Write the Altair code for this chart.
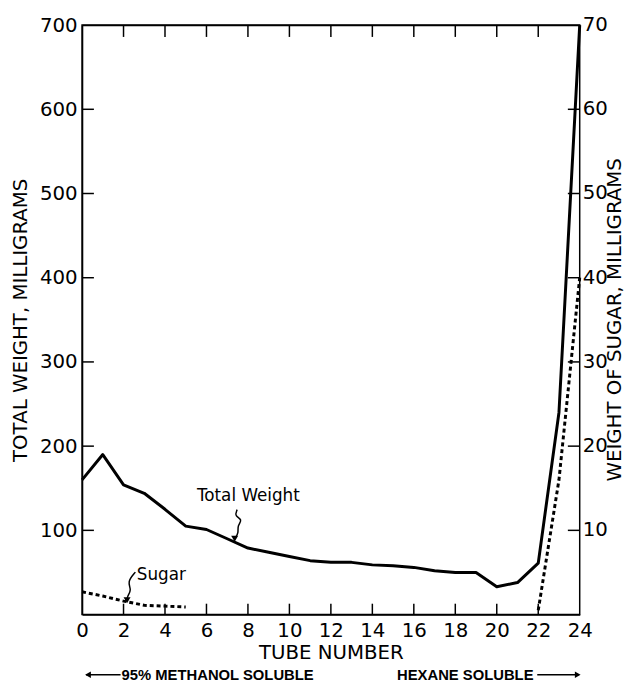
import altair as alt
import pandas as pd

# ---------------- data ----------------
TUBES = list(range(25))
TOTAL_WEIGHT = [160, 190, 154, 144, 125, 105, 101, 90, 79, 74, 69, 64, 62,
                62, 59, 58, 56, 52, 50, 50, 33, 38, 61, 240, 700]

SUGAR_TUBES_A = [0, 1, 2, 3, 4, 5]
SUGAR_A = [2.7, 2.2, 1.6, 1.1, 1.0, 0.9]
SUGAR_TUBES_B = [22, 23, 24]
SUGAR_B = [0.5, 16, 40]

X_TICKS = list(range(0, 25, 2))
X_INNER_TICKS = list(range(2, 23, 2))
LEFT_TICKS = [100, 200, 300, 400, 500, 600, 700]
LEFT_INNER_TICKS = [100, 200, 300, 400, 500, 600]
RIGHT_TICKS = [10, 20, 30, 40, 50, 60, 70]
RIGHT_INNER_TICKS = [10, 20, 30, 40, 50, 60]
RIGHT_TITLE = "WEIGHT OF SUGAR, MILLIGRAMS"

# annotation squiggles (data coordinates, left scale)
TW_ARROW_X = [7.48, 7.35, 7.76, 7.48, 7.56, 7.36]
TW_ARROW_Y = [124.6, 116.9, 112.9, 105.2, 97.3, 90]
SUGAR_ARROW_X = [2.57, 2.17, 2.4, 2.17, 2.17]
SUGAR_ARROW_Y = [50.4, 38.7, 29.3, 21.1, 17]

LABELS = ["Total Weight", "Sugar"]
LABEL_X = [8.02, 3.82]
LABEL_Y = [141, 47]

W, H = 504, 597
FONT = "DejaVu Sans"
TICK = 12

xscale = alt.Scale(domain=[0, 24], nice=False, zero=False)
yleft = alt.Scale(domain=[0, 700], nice=False)
yright = alt.Scale(domain=[0, 70], nice=False)

df_total = pd.DataFrame({"tube": TUBES, "weight": TOTAL_WEIGHT})
df_sugar = pd.DataFrame({
    "tube": SUGAR_TUBES_A + SUGAR_TUBES_B,
    "sugar": SUGAR_A + SUGAR_B,
    "seg": ["a"] * len(SUGAR_A) + ["b"] * len(SUGAR_B),
})
df_tw_arrow = pd.DataFrame({"x": TW_ARROW_X, "y": TW_ARROW_Y, "o": range(len(TW_ARROW_X))})
df_su_arrow = pd.DataFrame({"x": SUGAR_ARROW_X, "y": SUGAR_ARROW_Y, "o": range(len(SUGAR_ARROW_X))})
df_heads = pd.DataFrame({"x": [TW_ARROW_X[-1], SUGAR_ARROW_X[-1]],
                         "y": [TW_ARROW_Y[-1], SUGAR_ARROW_Y[-1]]})
df_labels = pd.DataFrame({"t": LABELS, "x": LABEL_X, "y": LABEL_Y})

bottom_axis = alt.Axis(orient="bottom", values=X_TICKS, title="TUBE  NUMBER",
                       ticks=False, labelPadding=6, titlePadding=3,
                       labelFlush=False, labelOverlap=False, grid=False)
left_axis = alt.Axis(orient="left", values=LEFT_TICKS, title="TOTAL  WEIGHT,  MILLIGRAMS",
                     ticks=False, labelPadding=5, titlePadding=9,
                     labelFlush=False, labelOverlap=False, grid=False)
top_axis = alt.Axis(orient="top", values=X_TICKS, title=None, labels=False,
                    ticks=False, grid=False)

total = alt.Chart(df_total).mark_line(color="black", strokeWidth=3, strokeJoin="round").encode(
    x=alt.X("tube:Q", scale=xscale, axis=bottom_axis),
    y=alt.Y("weight:Q", scale=yleft, axis=left_axis),
)

# inward tick marks drawn from the tick arrays
df_xt = pd.DataFrame({"t": X_INNER_TICKS})
bottom_ticks = alt.Chart(df_xt).mark_rule(color="black", strokeWidth=1.5).encode(
    x=alt.X("t:Q", scale=xscale), y=alt.value(H), y2=alt.value(H - TICK + 1))
top_ticks = alt.Chart(df_xt).mark_rule(color="black", strokeWidth=1.5).encode(
    x=alt.X("t:Q", scale=xscale), y=alt.value(0), y2=alt.value(TICK))
df_lt = pd.DataFrame({"v": LEFT_INNER_TICKS})
left_ticks = alt.Chart(df_lt).mark_rule(color="black", strokeWidth=1.5).encode(
    y=alt.Y("v:Q", scale=yleft), x=alt.value(0), x2=alt.value(TICK))
df_rt = pd.DataFrame({"v": RIGHT_INNER_TICKS})
right_ticks = alt.Chart(df_rt).mark_rule(color="black", strokeWidth=1.5).encode(
    y=alt.Y("v:Q", scale=yright, axis=None), x=alt.value(W - TICK), x2=alt.value(W))

# right-hand scale labels and title as text marks on the sugar scale
df_rl = pd.DataFrame({"v": RIGHT_TICKS, "s": [str(v) for v in RIGHT_TICKS]})
right_labels = alt.Chart(df_rl).mark_text(font=FONT, fontSize=20, color="black",
                                          align="left", baseline="middle").encode(
    y=alt.Y("v:Q", scale=yright, axis=None), x=alt.value(W + 3), text="s:N")
df_rtitle = pd.DataFrame({"s": [RIGHT_TITLE]})
right_title = alt.Chart(df_rtitle).mark_text(font=FONT, fontSize=20, color="black", angle=270,
                                             align="center", baseline="middle").encode(
    x=alt.value(W + 36), y=alt.value(H / 2), text="s:N")

tw_arrow = alt.Chart(df_tw_arrow).mark_line(color="black", strokeWidth=1.5, interpolate="basis").encode(
    x=alt.X("x:Q", scale=xscale), y=alt.Y("y:Q", scale=yleft), order="o:Q")
su_arrow = alt.Chart(df_su_arrow).mark_line(color="black", strokeWidth=1.5, interpolate="basis").encode(
    x=alt.X("x:Q", scale=xscale), y=alt.Y("y:Q", scale=yleft), order="o:Q")
heads = alt.Chart(df_heads).mark_point(shape="triangle-down", filled=True, color="black",
                                       size=50, opacity=1).encode(
    x=alt.X("x:Q", scale=xscale), y=alt.Y("y:Q", scale=yleft))
labels = alt.Chart(df_labels).mark_text(font=FONT, fontSize=17, color="black",
                                         align="center", baseline="middle").encode(
    x=alt.X("x:Q", scale=xscale), y=alt.Y("y:Q", scale=yleft), text="t:N")

# bottom captions (pixel positions relative to plot area)
CAP_Y = H + 61
cap_df = pd.DataFrame({"t": ["95% METHANOL SOLUBLE", "HEXANE SOLUBLE"], "px": [40, 319]})
captions = alt.Chart(cap_df).mark_text(font="Liberation Sans", fontWeight="bold", fontSize=15,
                                       color="black", align="left", baseline="middle").encode(
    x=alt.X("px:Q", scale=None), y=alt.value(CAP_Y), text="t:N")
arr_df = pd.DataFrame({"a": [4, 461], "b": [39, 503]})
arrow_lines = alt.Chart(arr_df).mark_rule(color="black", strokeWidth=1.5).encode(
    x=alt.X("a:Q", scale=None), x2="b:Q", y=alt.value(CAP_Y))
head_df = pd.DataFrame({"px": [6, 502], "s": ["triangle-left", "triangle-right"]})
arrow_heads = alt.Chart(head_df).mark_point(filled=True, color="black", size=45, opacity=1).encode(
    x=alt.X("px:Q", scale=None), y=alt.value(CAP_Y),
    shape=alt.Shape("s:N", scale=None))

left_layer = alt.layer(total, bottom_ticks, top_ticks, left_ticks, tw_arrow, su_arrow, heads, labels)

sugar = alt.Chart(df_sugar).mark_line(color="black", strokeWidth=3, strokeDash=[4, 3]).encode(
    x=alt.X("tube:Q", scale=xscale, axis=top_axis),
    y=alt.Y("sugar:Q", scale=yright, axis=None),
    detail="seg:N",
)
right_layer = alt.layer(sugar, right_ticks, right_labels, right_title)

chart = alt.layer(left_layer, right_layer, captions, arrow_lines, arrow_heads).resolve_scale(
    y="independent", x="shared").resolve_axis(x="independent", y="independent").properties(
    width=W, height=H, autosize="none",
    padding={"left": 75, "top": 13, "right": 56, "bottom": 64},
).configure_view(stroke="black", strokeWidth=1.5).configure_axis(
    labelFont=FONT, titleFont=FONT, labelFontSize=20, titleFontSize=20,
    titleFontWeight="normal", labelColor="black", titleColor="black",
    domainColor="black", domainWidth=1.5,
)

chart.save("out.html", embed_options={"renderer": "svg", "actions": False})
